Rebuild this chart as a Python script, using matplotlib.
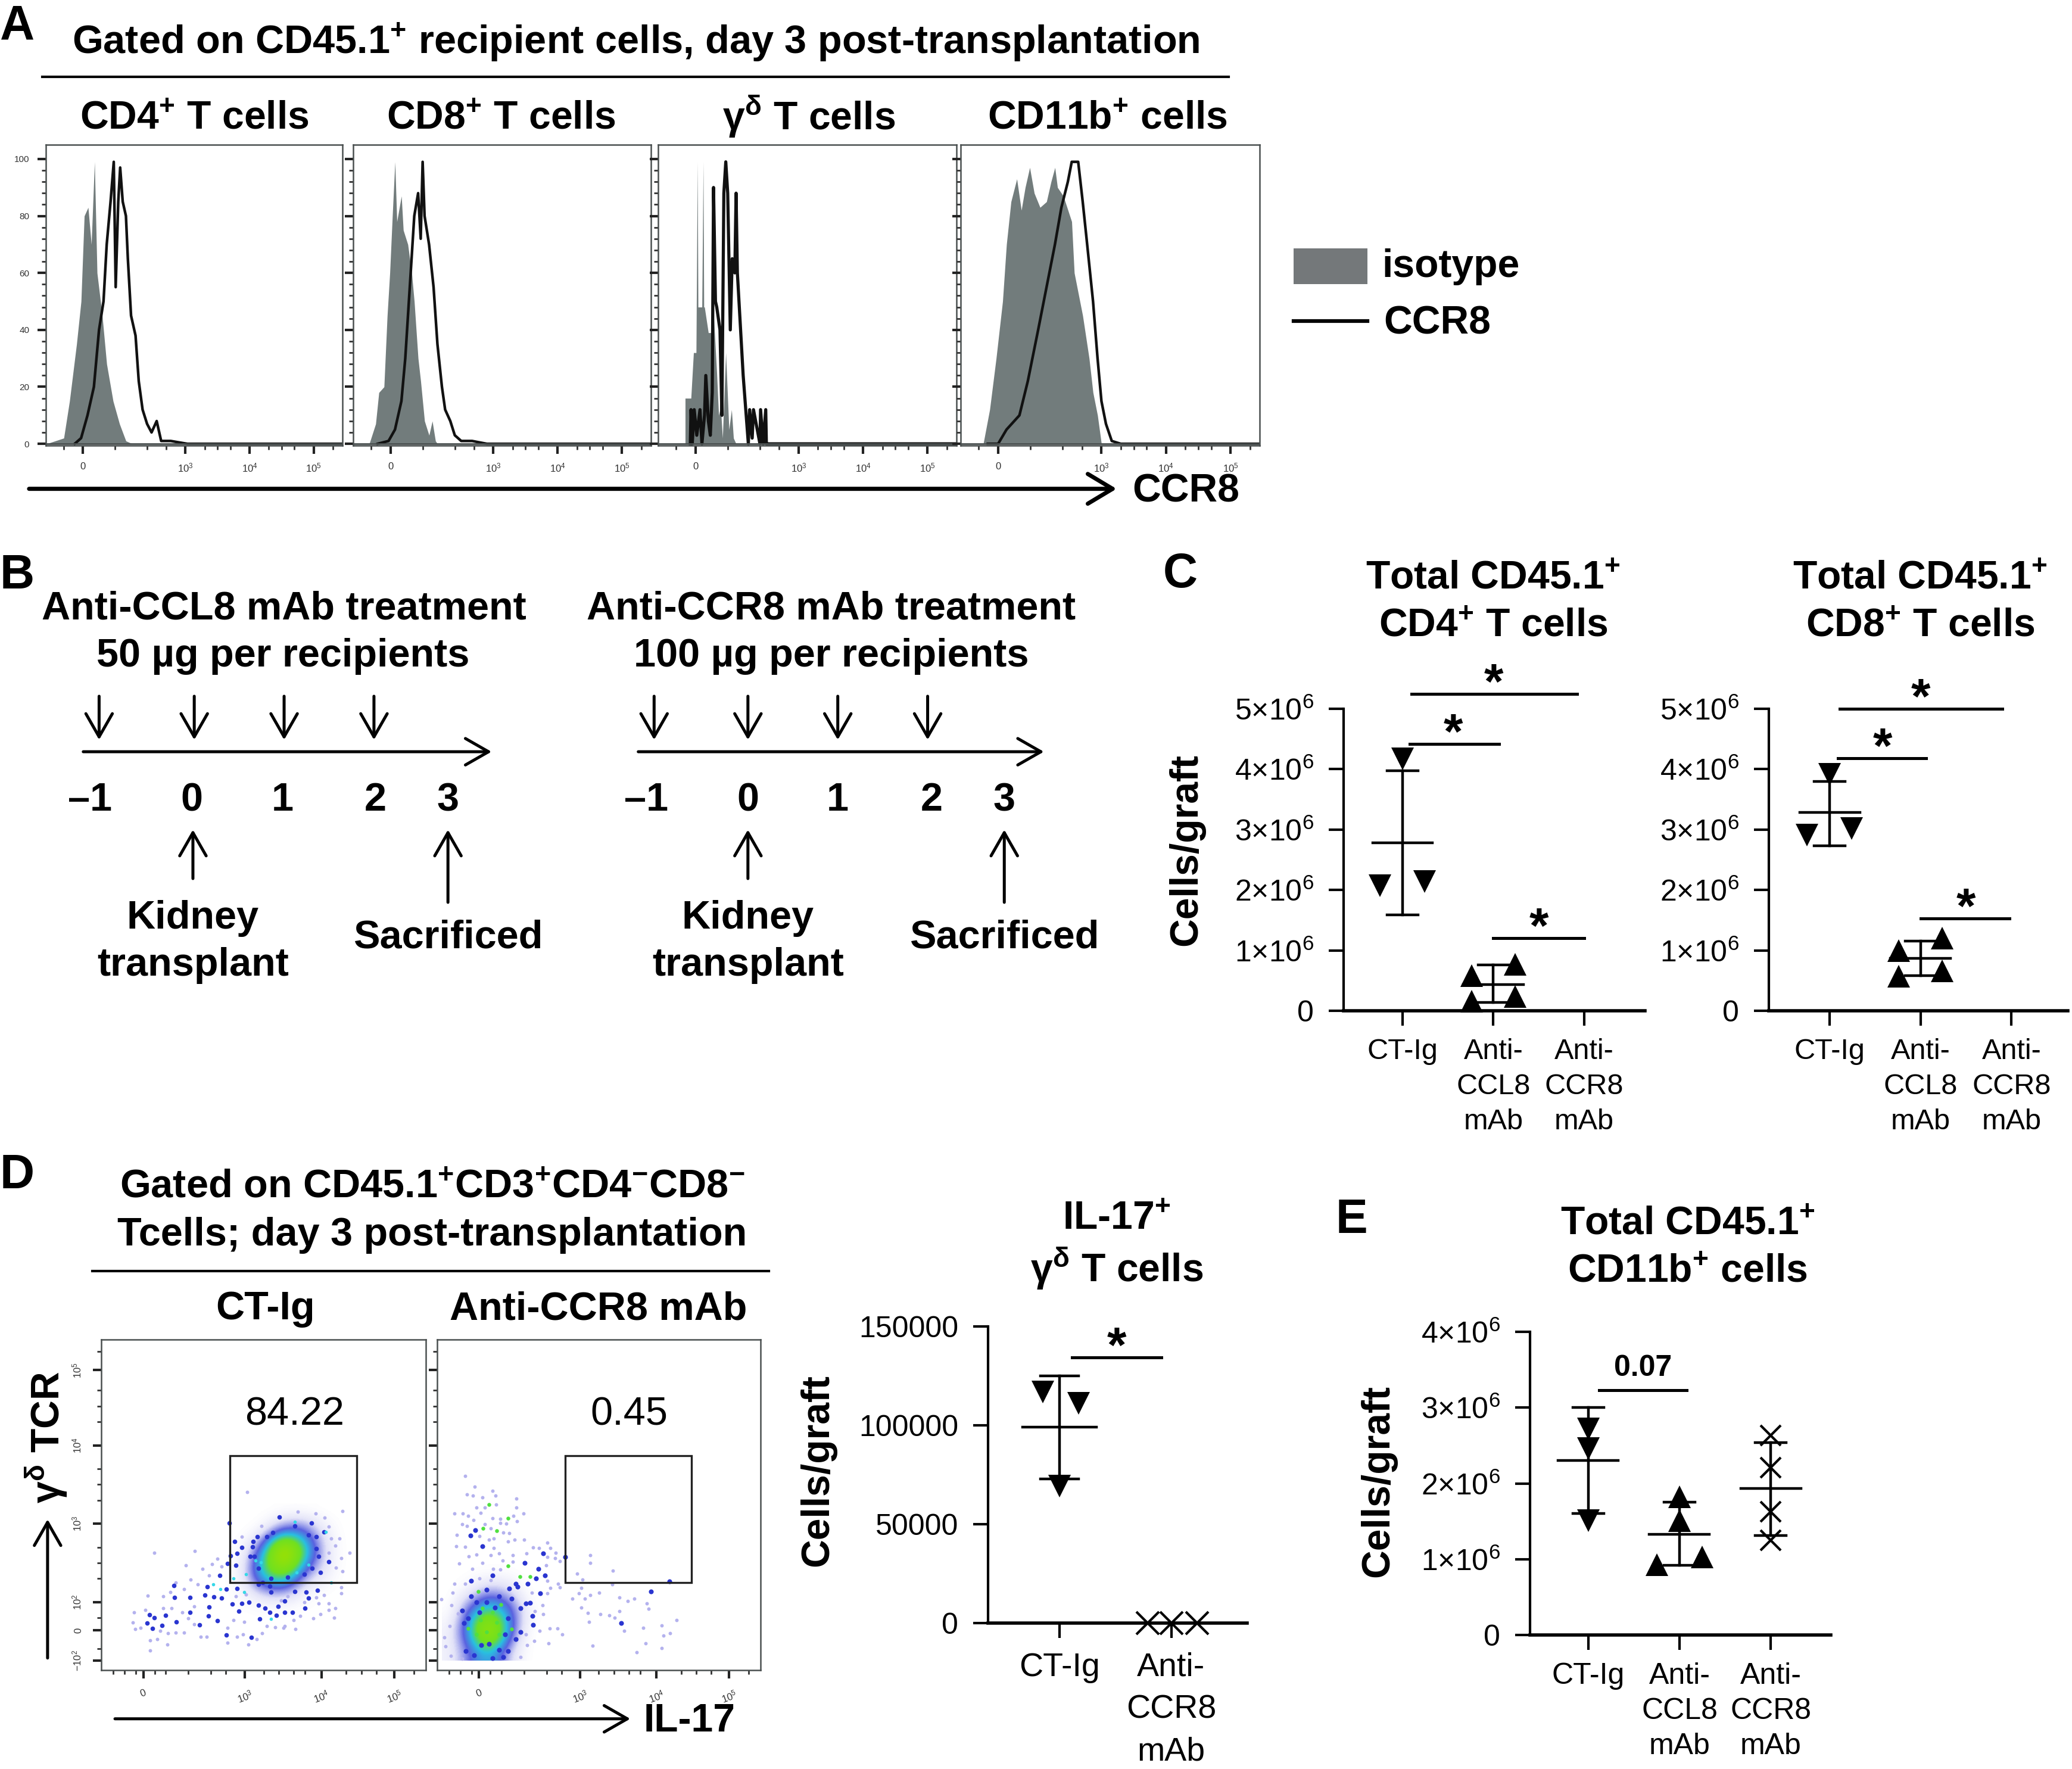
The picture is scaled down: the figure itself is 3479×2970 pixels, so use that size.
import matplotlib
matplotlib.use("Agg")
import matplotlib.pyplot as plt
import numpy as np
from matplotlib.colors import LinearSegmentedColormap
from matplotlib.patches import Rectangle

plt.rcParams['font.family'] = ['Liberation Sans', 'DejaVu Sans']
plt.rcParams['mathtext.fontset'] = 'custom'
plt.rcParams['mathtext.rm'] = 'Liberation Sans'
plt.rcParams['mathtext.bf'] = 'Liberation Sans:bold'
plt.rcParams['mathtext.it'] = 'Liberation Sans:italic'
plt.rcParams['mathtext.default'] = 'regular'

W, H = 3479, 2970

# histograms, panel A (x in decades from zero, y in % of max)
iso_cd4_x = [-0.57, -0.3, -0.21, -0.1, -0.03, 0.02, 0.08, 0.13, 0.18, 0.22, 0.3, 0.37, 0.47, 0.57, 0.67, 0.77]
iso_cd4_y = [0, 2, 15, 35, 50, 80, 83, 70, 99, 60, 45, 28, 15, 7, 1, 0]
ccr8_cd4_x = [-0.13, -0.03, 0.07, 0.17, 0.25, 0.32, 0.37, 0.43, 0.48, 0.51, 0.55, 0.58, 0.62, 0.67, 0.7, 0.75, 0.82,
              0.87, 0.93, 1.0, 1.07, 1.15, 1.22, 1.37, 1.63, 4.03]
ccr8_cd4_y = [0, 2, 10, 20, 40, 50, 70, 85, 99, 55, 85, 97, 85, 80, 65, 45, 38, 22, 12, 7, 4, 8, 1, 1, 0, 0]

iso_cd8_x = [-0.33, -0.23, -0.18, -0.1, -0.05, -0.01, 0.03, 0.07, 0.1, 0.17, 0.2, 0.27, 0.33, 0.37, 0.43, 0.47, 0.53,
             0.6, 0.65, 0.7, 0.73]
iso_cd8_y = [0, 7, 18, 20, 45, 60, 80, 99, 78, 87, 75, 70, 60, 50, 30, 22, 8, 3, 8, 1, 0]
ccr8_cd8_x = [-0.2, -0.03, 0.07, 0.17, 0.23, 0.3, 0.37, 0.43, 0.47, 0.5, 0.53, 0.6, 0.67, 0.73, 0.8, 0.85, 0.93, 1.0,
              1.1, 1.27, 1.5, 4.03]
ccr8_cd8_y = [0, 1, 5, 15, 30, 55, 80, 88, 72, 99, 80, 70, 55, 35, 20, 12, 8, 3, 1, 1, 0, 0]

iso_gd_x = [-0.16, -0.16, -0.07, -0.03, 0.01, 0.03, 0.04, 0.05, 0.1, 0.12, 0.13, 0.14, 0.2, 0.25, 0.27, 0.33, 0.36,
            0.39, 0.42, 0.47, 0.52, 0.56, 0.59, 0.63]
iso_gd_y = [0, 16, 16, 32, 32, 99, 48, 48, 48, 99, 48, 48, 39, 39, 50, 25, 10, 13, 2, 32, 5, 12, 2, 0]
ccr8_gd_x = [-0.08, -0.07, -0.05, -0.02, 0.02, 0.07, 0.1, 0.14, 0.16, 0.2, 0.23, 0.26, 0.28, 0.31, 0.33, 0.38, 0.41,
             0.44, 0.47, 0.5, 0.54, 0.57, 0.61, 0.63, 0.65, 0.7, 0.74, 0.78, 0.82, 0.84, 0.88, 0.9, 1.0, 1.01, 1.05,
             1.09, 1.1, 1.13, 4.03]
ccr8_gd_y = [0, 12, 0, 12, 3, 12, 0, 10, 24, 8, 3, 18, 90, 50, 48, 40, 10, 88, 99, 88, 40, 65, 60, 88, 60, 40, 24, 12,
             0, 12, 2, 12, 0, 12, 0, 12, 0, 0, 0]

iso_cd11_x = [-0.23, -0.13, -0.03, 0.07, 0.13, 0.2, 0.29, 0.36, 0.42, 0.49, 0.56, 0.65, 0.75, 0.82, 0.88, 0.92, 1.01,
              1.14, 1.18, 1.31, 1.41, 1.47, 1.54, 1.6]
iso_cd11_y = [0, 12, 30, 50, 70, 85, 93, 82, 90, 97, 88, 83, 85, 92, 97, 90, 87, 78, 60, 45, 30, 18, 10, 0]
ccr8_cd11_x = [-0.16, 0, 0.13, 0.33, 0.46, 0.62, 0.75, 0.88, 0.98, 1.08, 1.14, 1.24, 1.31, 1.37, 1.47, 1.54, 1.6,
               1.67, 1.76, 1.9, 4.03]
ccr8_cd11_y = [0, 0, 5, 10, 22, 40, 55, 70, 83, 92, 99, 99, 85, 72, 50, 30, 15, 7, 1, 0, 0]

hist_left = [77, 593, 1105, 1613]
hist_right = [575, 1093, 1606, 2115]
hist_ticks = [0, 1.6, 2.6, 3.6]
hist_tick_labels = ["0", "$10^3$", "$10^4$", "$10^5$"]
hist_yticks = [0, 20, 40, 60, 80, 100]

# density of the core of each pseudocolour plot, panel D (decades)
dens_ct_x = [-0.125, 0.125, 0.375, 0.625, 0.875, 1.125, 1.375, 1.625, 1.875, 2.125, 2.375, 2.625]
dens_ct_y = [3.125, 2.875, 2.625, 2.375, 2.125, 1.875]
dens_ct = [
    [0, 0, 0, 0, 0, 0, 0, 0, 0, 0, 0, 0],
    [0, 0, 0, 0, 0, 0, 0, .1, .7, .8, .2, 0],
    [0, 0, 0, 0, 0, 0, .1, 1.1, 4.0, 1.5, .3, 0],
    [0, 0, 0, 0, 0, 0, .2, 1.6, 1.9, .5, .2, 0],
    [0, 0, 0, 0, 0, 0, .1, .3, .3, .1, 0, 0],
    [0, 0, 0, 0, 0, 0, 0, 0, 0, 0, 0, 0],
]
dens_anti_x = [-0.375, -0.125, 0.125, 0.375, 0.625, 0.875]
dens_anti_y = [2.375, 2.125, 1.875, 1.625, 1.375]
dens_anti = [
    [0, 0, 0, 0, 0, 0],
    [0, .1, .4, .3, 0, 0],
    [0, .7, 1.5, .9, .1, 0],
    [.1, 1.0, 3.4, .9, 0, 0],
    [.1, .6, 1.1, .3, 0, 0],
]

ct_light = [(255, 320), (452, 312), (410, 385), (488, 403), (535, 378), (225, 538), (158, 622), (152, 672), (212, 608),
            (163, 706), (190, 700), (237, 762), (270, 755), (318, 782), (237, 813), (322, 725), (360, 722), (400, 723),
            (285, 715), (610, 775), (710, 783), (655, 745), (605, 735), (480, 745), (510, 745), (685, 733), (750, 757),
            (778, 725), (937, 705), (885, 690), (840, 695), (1025, 650), (1060, 630), (1125, 648), (1130, 600),
            (1100, 610), (1100, 575), (1050, 575), (1075, 535), (1160, 525), (1160, 495), (1165, 415), (1135, 397),
            (1160, 347), (1200, 320), (1130, 285), (1165, 110), (1035, 122), (950, 115), (1078, 145), (705, 15),
            (775, 185), (860, 140), (433, 455), (360, 470), (300, 540), (335, 520), (465, 480), (520, 435), (580, 390),
            (560, 350), (400, 505), (390, 620), (450, 590), (340, 600), (300, 600), (420, 650), (450, 680), (610, 700),
            (640, 660), (690, 670), (800, 690), (880, 700), (930, 660), (960, 640), (980, 570), (1040, 545), (900, 540),
            (870, 560), (700, 530), (650, 540), (680, 240), (1100, 190), (1110, 250), (1150, 250), (1100, 320)]
ct_dark = [(232, 632), (255, 648), (222, 675), (293, 688), (248, 703), (310, 635), (355, 545), (352, 485), (430, 545),
           (362, 668), (428, 622), (522, 593), (518, 638), (562, 662), (475, 683), (543, 542), (582, 548), (500, 535),
           (512, 492), (572, 435), (603, 505), (655, 500), (680, 575), (665, 615), (632, 580), (715, 570), (760, 585),
           (790, 600), (820, 520), (815, 490), (760, 480), (855, 590), (845, 635), (765, 655), (815, 620), (885, 565),
           (935, 515), (1045, 510), (990, 520), (1000, 550), (985, 600), (925, 620), (885, 620), (725, 748), (603, 735),
           (645, 265), (680, 295), (655, 325), (625, 335), (650, 385), (735, 265), (720, 340), (1060, 420), (1100, 365),
           (1040, 240), (1015, 170), (1075, 215), (935, 185), (860, 140), (830, 220), (800, 240), (755, 240), (740, 340),
           (760, 400), (1000, 230), (1040, 300), (1050, 340), (1020, 400), (980, 430), (900, 445), (820, 450), (780, 470),
           (730, 290), (618, 170), (610, 375)]
ct_cyan = [(1000, 380), (945, 420), (770, 370), (745, 360), (1085, 215), (935, 165), (575, 505), (540, 480), (690, 520),
           (820, 655), (1110, 470), (640, 450), (700, 430)]

anti_light = [(135, 82), (183, 138), (268, 158), (145, 175), (172, 183), (220, 190), (283, 183), (385, 197), (285, 228),
              (190, 243), (230, 243), (385, 243), (85, 272), (212, 270), (418, 272), (125, 272), (150, 285), (268, 297),
              (305, 300), (370, 283), (388, 310), (305, 320), (335, 322), (175, 305), (232, 327), (120, 327), (145, 335),
              (260, 347), (350, 370), (320, 368), (95, 380), (205, 385), (250, 405), (275, 397), (345, 412), (375, 405),
              (422, 405), (92, 437), (135, 440), (275, 445), (465, 443), (495, 445), (533, 418), (550, 445), (152, 488),
              (190, 478), (260, 483), (300, 472), (368, 482), (432, 472), (535, 490), (575, 470), (572, 497), (595, 512),
              (108, 525), (220, 522), (318, 510), (368, 515), (528, 533), (170, 552), (272, 552), (305, 553), (742, 483),
              (742, 522), (852, 560), (680, 575), (705, 605), (850, 630), (585, 625), (550, 648), (595, 645), (700, 648),
              (535, 610), (535, 675), (460, 670), (85, 625), (135, 625), (205, 600), (260, 607), (20, 703), (75, 672),
              (70, 735), (100, 775), (655, 700), (687, 675), (717, 700), (742, 683), (785, 670), (883, 695), (925, 713),
              (957, 700), (1017, 725), (1025, 752), (700, 747), (730, 772), (790, 778), (835, 785), (860, 798), (883, 765),
              (737, 817), (908, 862), (1000, 848), (1088, 835), (1160, 810), (1128, 875), (1098, 887), (1012, 925),
              (1088, 950), (968, 972), (753, 938), (583, 850), (607, 882), (545, 850), (497, 862), (540, 925), (470, 915),
              (435, 935), (430, 880), (510, 735), (475, 765), (515, 780), (65, 990), (40, 940), (35, 895), (60, 840),
              (120, 1005), (405, 995)]
anti_dark = [(165, 690), (240, 655), (360, 700), (450, 722), (463, 788), (465, 832), (405, 870), (380, 905), (320, 995),
             (345, 965), (405, 750), (270, 1000), (180, 985), (140, 965), (130, 825), (150, 800), (250, 930), (300, 960),
             (215, 935), (330, 880), (345, 800), (280, 745), (190, 720), (240, 720), (300, 690), (120, 760), (205, 770),
             (350, 650), (390, 640), (440, 625), (490, 550), (515, 472), (425, 520), (480, 600), (523, 585), (500, 675),
             (622, 490), (1125, 613), (220, 437), (162, 383), (185, 355), (1037, 665), (893, 825), (380, 625), (270, 585),
             (165, 612), (430, 725)]
anti_green = [(200, 665), (310, 730), (210, 810), (270, 770), (190, 880), (240, 870), (300, 880), (360, 855), (220, 750),
              (150, 850), (290, 820), (250, 228), (345, 297), (222, 348), (288, 358), (400, 590), (450, 590), (345, 537)]

flow_xticks = [0, 1.35, 2.37, 3.34]
flow_yticks = [1.25, 1.64, 2, 3, 4, 4.96]
flow_ylabels = ["$-10^2$", "0", "$10^2$", "$10^3$", "$10^4$", "$10^5$"]

# dot plots
cats_3 = ["CT-Ig", "Anti-\nCCL8\nmAb", "Anti-\nCCR8\nmAb"]
cats_2 = ["CT-Ig", "Anti-\nCCR8\nmAb"]
ticks_5e6 = [0, 1e6, 2e6, 3e6, 4e6, 5e6]
labels_5e6 = ["0", "1×10$^6$", "2×10$^6$", "3×10$^6$", "4×10$^6$", "5×10$^6$"]

cd4_ct_off = [0, -0.25, 0.24]
cd4_ct = [4.17e6, 2.07e6, 2.14e6]
cd4_ct_stats = [2.78e6, 1.59e6, 3.97e6]
cd4_ccl8_off = [-0.24, 0.24, -0.24, 0.24]
cd4_ccl8 = [0.58e6, 0.77e6, 0.16e6, 0.24e6]
cd4_ccl8_stats = [0.43e6, 0.14e6, 0.76e6]

cd8_ct_off = [0, -0.25, 0.24]
cd8_ct = [3.92e6, 2.91e6, 3.02e6]
cd8_ct_stats = [3.28e6, 2.73e6, 3.8e6]
cd8_ccl8_off = [-0.24, 0.24, -0.24, 0.24]
cd8_ccl8 = [1.0e6, 1.2e6, 0.57e6, 0.66e6]
cd8_ccl8_stats = [0.87e6, 0.58e6, 1.15e6]

il17_ct_off = [-0.15, 0.17, 0]
il17_ct = [117000, 111000, 69400]
il17_ct_stats = [99000, 73000, 125000]
il17_anti_off = [-0.21, 0, 0.23]
il17_anti = [0, 0, 0]

cd11_ct_off = [0, 0, 0]
cd11_ct = [2.72e6, 2.46e6, 1.51e6]
cd11_ct_stats = [2.3e6, 1.6e6, 3.0e6]
cd11_ccl8_off = [-0.25, 0.25, 0, 0]
cd11_ccl8 = [0.93e6, 1.03e6, 1.82e6, 1.51e6]
cd11_ccl8_stats = [1.33e6, 0.92e6, 1.75e6]
cd11_ccr8_off = [0, 0, 0, 0]
cd11_ccr8 = [2.63e6, 2.21e6, 1.63e6, 1.25e6]
cd11_ccr8_stats = [1.93e6, 1.31e6, 2.54e6]

fig = plt.figure(figsize=(W / 100, H / 100), dpi=100)
FLOW = '#4a5050'
ISO = '#727c7c'


def add_axes_px(left, top, right, bottom):
    return fig.add_axes([left / W, 1 - bottom / H, (right - left) / W, (bottom - top) / H])


# --- panel A histograms
iso_all = [(iso_cd4_x, iso_cd4_y), (iso_cd8_x, iso_cd8_y), (iso_gd_x, iso_gd_y), (iso_cd11_x, iso_cd11_y)]
line_all = [(ccr8_cd4_x, ccr8_cd4_y), (ccr8_cd8_x, ccr8_cd8_y), (ccr8_gd_x, ccr8_gd_y), (ccr8_cd11_x, ccr8_cd11_y)]
for i in range(4):
    ax = add_axes_px(hist_left[i], 243, hist_right[i], 748)
    ax.fill_between(iso_all[i][0], 0, iso_all[i][1], color=ISO, lw=0)
    ax.plot(line_all[i][0], line_all[i][1], color='#111111', lw=3.2 if i != 2 else 3.8)
    ax.axhline(0, color=FLOW, lw=2)
    ax.set_xlim(-0.58, 4.05)
    ax.set_ylim(-0.6, 105)
    ax.set_xticks(hist_ticks)
    ax.set_xticklabels(hist_tick_labels, fontsize=12, color='#333333')
    ax.set_yticks(hist_yticks)
    if i == 0:
        ax.set_yticklabels([str(t) for t in hist_yticks], fontsize=11, color='#333333')
    else:
        ax.set_yticklabels([])
    ax.tick_params(axis='both', length=10, width=3, pad=10, color='#222222')
    ax.set_yticks([t + 4 * k for t in hist_yticks[:-1] for k in range(1, 5)], minor=True)
    ax.set_xticks([-0.3, 0.5, 1.0, 1.3, 1.9, 2.1, 2.3, 2.9, 3.1, 3.3, 3.9], minor=True)
    ax.tick_params(axis='both', which='minor', length=5, width=2, color='#333333')
    for sp in ax.spines.values():
        sp.set_color(FLOW)
        sp.set_linewidth(1.8)

# --- panel D pseudocolour plots
cmap = LinearSegmentedColormap.from_list(
    'flow', [(0, '#ffffff'), (0.06, '#e2e2f8'), (0.16, '#5a62e0'), (0.27, '#28c0e0'), (0.4, '#70e020'),
             (0.7, '#a0e000'), (0.85, '#f08010'), (1, '#f02010')])


def to_decades(points, y0):
    # scan column/row to decades on the plot axes
    pts = np.array(points, dtype=float)
    return pts[:, 0] / 363 - 0.56, y0 - pts[:, 1] / 394.5


flow_sets = [
    (170, 715, dens_ct_x, dens_ct_y, dens_ct, 3.441,
     [(ct_light, '#b4b2ee', 18), (ct_dark, '#2a35d0', 30), (ct_cyan, '#35d8e8', 16)]),
    (734, 1277, dens_anti_x, dens_anti_y, dens_anti, 3.82,
     [(anti_light, '#b4b2ee', 18), (anti_dark, '#2a35d0', 34), (anti_green, '#50e040', 22)]),
]
for i, (l, r, dx, dy, dens, y0, dots) in enumerate(flow_sets):
    ax = add_axes_px(l, 2249, r, 2804)
    ax.imshow(dens, extent=[dx[0] - 0.125, dx[-1] + 0.125, dy[-1] - 0.125, dy[0] + 0.125], aspect='auto',
              cmap=cmap, vmin=0, vmax=4, interpolation='bicubic', zorder=1)
    for pts, col, size in dots:
        sx, sy = to_decades(pts, y0)
        ax.scatter(sx, sy, s=size, color=col, lw=0, zorder=2)
    ax.add_patch(Rectangle((1.15, 2.25), 1.69, 1.62, fill=False, ec='#222222', lw=2.4, zorder=3))
    ax.set_xlim(-0.56, 3.76)
    ax.set_ylim(1.13, 5.35)
    ax.set_xticks(flow_xticks)
    ax.set_xticklabels(["0", "$10^3$", "$10^4$", "$10^5$"], fontsize=12, color='#333333', rotation=20)
    ax.set_yticks(flow_yticks)
    if i == 0:
        ax.set_yticklabels(flow_ylabels, fontsize=12, color='#333333', rotation=90, va='center')
    else:
        ax.set_yticklabels([])
    ax.tick_params(axis='both', length=10, width=3, pad=12, color='#222222')
    ax.set_xticks([-0.4, -0.25, -0.1, 0.15, 0.3, 0.6, 0.9, 1.1, 1.6, 1.8, 2.0, 2.15, 2.7, 2.9, 3.1, 3.6], minor=True)
    ax.set_yticks([1.4, 1.8, 2.3, 2.5, 2.7, 3.3, 3.5, 3.7, 4.3, 4.5, 4.7, 5.2], minor=True)
    ax.tick_params(axis='both', which='minor', length=5, width=2, color='#333333')
    for sp in ax.spines.values():
        sp.set_color(FLOW)
        sp.set_linewidth(1.8)


# --- dot plots
def dot_axes(left, right, top, bottom, xlim, ymax, yticks, ylabels, cats, xsize=36, linespacing=1.36, xpad=15):
    ax = add_axes_px(left, top, right, bottom)
    ax.set_xlim(*xlim)
    ax.set_ylim(0, ymax)
    ax.spines['top'].set_visible(False)
    ax.spines['right'].set_visible(False)
    ax.spines['left'].set_linewidth(3)
    ax.spines['bottom'].set_linewidth(4)
    ax.set_yticks(yticks)
    ax.set_yticklabels(ylabels, fontsize=36)
    ax.set_xticks(range(len(cats)))
    ax.set_xticklabels(cats, fontsize=xsize, linespacing=linespacing)
    ax.tick_params(axis='x', length=18, width=3, pad=xpad)
    ax.tick_params(axis='y', length=18, width=3, pad=18)
    ax.patch.set_alpha(0)
    return ax


def group(ax, x0, offs, vals, marker, stats=None, ms=28):
    xs = [x0 + o for o in offs]
    if marker == 'x':
        ax.plot(xs, vals, ls='', marker='x', ms=ms, mew=3, color='k', clip_on=False, zorder=4)
    else:
        ax.plot(xs, vals, ls='', marker=marker, ms=ms, mew=0, color='k', clip_on=False, zorder=4)
    if stats is not None:
        mean, lo, hi = stats
        ax.plot([x0, x0], [lo, hi], color='k', lw=3.2, clip_on=False, zorder=5)
        ax.plot([x0 - 0.33, x0 + 0.33], [mean, mean], color='k', lw=3.2, clip_on=False, zorder=5)
        for v in (lo, hi):
            ax.plot([x0 - 0.17, x0 + 0.17], [v, v], color='k', lw=3.2, clip_on=False, zorder=5)


def sig(ax, x0, x1, y, xt, label='*', dy=-18, size=60):
    ax.plot([x0, x1], [y, y], color='k', lw=3.6, clip_on=False)
    ax.annotate(label, (xt, y), xytext=(0, dy), textcoords='offset points', ha='center', va='bottom',
                fontsize=size, fontweight='bold', annotation_clip=False)


ax = dot_axes(2256, 2762, 1190, 1697, (-0.65, 2.67), 5e6, ticks_5e6, labels_5e6, cats_3, xsize=35, linespacing=1.4)
group(ax, 0, cd4_ct_off, cd4_ct, 'v', cd4_ct_stats)
group(ax, 1, cd4_ccl8_off, cd4_ccl8, '^', cd4_ccl8_stats)
sig(ax, 0.1, 1.92, 5.25e6, 1.0)
sig(ax, 0.08, 1.06, 4.42e6, 0.56)
sig(ax, 1.0, 2.0, 1.2e6, 1.5)

ax = dot_axes(2970, 3472, 1190, 1697, (-0.67, 2.62), 5e6, ticks_5e6, labels_5e6, cats_3, xsize=35, linespacing=1.4)
group(ax, 0, cd8_ct_off, cd8_ct, 'v', cd8_ct_stats)
group(ax, 1, cd8_ccl8_off, cd8_ccl8, '^', cd8_ccl8_stats)
sig(ax, 0.11, 1.9, 5.0e6, 1.0)
sig(ax, 0.09, 1.06, 4.18e6, 0.58)
sig(ax, 1.0, 1.98, 1.53e6, 1.5)

ax = dot_axes(1659, 2094, 2227, 2725, (-0.64, 1.68), 150000, [0, 50000, 100000, 150000],
              ["0", "50000", "100000", "150000"], cats_2, xsize=40, linespacing=1.47, xpad=17)
group(ax, 0, il17_ct_off, il17_ct, 'v', il17_ct_stats)
group(ax, 1, il17_anti_off, il17_anti, 'x', ms=28)
sig(ax, 0.11, 0.91, 134400, 0.51)

ax = dot_axes(2569, 3074, 2236, 2745, (-0.64, 2.66), 4e6, [0, 1e6, 2e6, 3e6, 4e6], labels_5e6[:5], cats_3)
group(ax, 0, cd11_ct_off, cd11_ct, 'v', cd11_ct_stats)
group(ax, 1, cd11_ccl8_off, cd11_ccl8, '^', cd11_ccl8_stats)
group(ax, 2, cd11_ccr8_off, cd11_ccr8, 'x', cd11_ccr8_stats, ms=25)
sig(ax, 0.12, 1.08, 3.23e6, 0.6, label='0.07', dy=10, size=36)

# --- text and arrows on a full-figure overlay, in the shrunk picture's coordinates
ann = fig.add_axes([0, 0, 1, 1], zorder=10)
ann.set_xlim(0, 1568)
ann.set_ylim(1339, 0)
ann.axis('off')
BIG = 47.5
MID = 48


def txt(x, y, s, size=BIG, bold=True, ha='center', rot=0):
    ann.text(x, y + (0 if rot else 2), s, fontsize=size, fontweight='bold' if bold else 'normal', ha=ha, va='center',
             rotation=rot, rotation_mode='anchor' if rot else 'default')


def arrow(x0, y0, x1, y1, lw=3.6, head=(28, 16)):
    ann.annotate('', xy=(x1, y1), xytext=(x0, y0),
                 arrowprops=dict(arrowstyle=f'->,head_length={head[0]},head_width={head[1]}', lw=lw, color='k',
                                 shrinkA=0, shrinkB=0, mutation_scale=1))


for x, y, s in [(13, 18, 'A'), (13, 434, 'B'), (893, 433, 'C'), (13, 888, 'D'), (1023, 922, 'E')]:
    txt(x, y, s, size=58)

# panel A
txt(481, 30, r"Gated on CD45.1$^{\mathbf{+}}$ recipient cells, day 3 post-transplantation", size=48)
ann.plot([32, 930], [58, 58], color='k', lw=3)
txt(147, 88, r"CD4$^{\mathbf{+}}$ T cells")
txt(379, 88, r"CD8$^{\mathbf{+}}$ T cells")
txt(612, 86, r"γ$^{\mathbf{δ}}$ T cells")
txt(838, 88, r"CD11b$^{\mathbf{+}}$ cells")
arrow(22, 370, 845, 370, lw=5, head=(30, 18))
txt(857, 370, "CCR8", ha='left')
ann.add_patch(Rectangle((979, 188), 56, 27, color='#74787a', lw=0))
txt(1046, 200, "isotype", ha='left')
ann.plot([979, 1035], [243, 243], color='k', lw=4.5)
txt(1047, 243, "CCR8", ha='left')

# panel B
timelines = [(63, 372, [75, 147, 215, 283], [68, 145, 214, 284, 339], 146, 339, 215, 214,
              "Anti-CCL8 mAb treatment", "50 µg per recipients"),
             (483, 790, [495, 566, 634, 702], [489, 566, 634, 705, 760], 566, 760, 629, 629,
              "Anti-CCR8 mAb treatment", "100 µg per recipients")]
day_labels = ["–1", "0", "1", "2", "3"]
for x0, x1, downs, days, kid, sac, h1, h2, t1, t2 in timelines:
    txt(h1, 459, t1, size=MID)
    txt(h2, 495, t2, size=MID)
    arrow(x0, 569, x1, 569)
    for d in downs:
        arrow(d, 527, d, 560)
    for d, lab in zip(days, day_labels):
        txt(d, 604, lab, size=MID)
    arrow(kid, 665, kid, 628)
    arrow(sac, 683, sac, 628)
    txt(kid, 693, "Kidney", size=MID)
    txt(kid, 729, "transplant", size=MID)
    txt(sac, 708, "Sacrificed", size=MID)

# panel C
txt(1130, 436, r"Total CD45.1$^{\mathbf{+}}$")
txt(1130, 472, r"CD4$^{\mathbf{+}}$ T cells")
txt(1453, 436, r"Total CD45.1$^{\mathbf{+}}$")
txt(1453, 472, r"CD8$^{\mathbf{+}}$ T cells")
txt(898, 643, "Cells/graft", rot=90)

# panel D
txt(327, 897, r"Gated on CD45.1$^{\mathbf{+}}$CD3$^{\mathbf{+}}$CD4$^{\mathbf{-}}$CD8$^{\mathbf{-}}$", size=MID)
txt(327, 933, "Tcells; day 3 post-transplantation", size=MID)
ann.plot([70, 582], [962, 962], color='k', lw=3)
txt(201, 989, "CT-Ig", size=MID)
txt(453, 989, "Anti-CCR8 mAb", size=MID)
txt(223, 1069, "84.22", size=48, bold=False)
txt(476, 1069, "0.45", size=48, bold=False)
txt(35, 1088, r"γ$^{\mathbf{δ}}$ TCR", rot=90)
arrow(36, 1255, 36, 1150)
arrow(87, 1301, 477, 1301)
txt(487, 1301, "IL-17", ha='left')
txt(845, 921, r"IL-17$^{\mathbf{+}}$")
txt(845, 958, r"γ$^{\mathbf{δ}}$ T cells")
txt(619, 1113, "Cells/graft", rot=90)

# panel E
txt(1277, 925, r"Total CD45.1$^{\mathbf{+}}$")
txt(1277, 961, r"CD11b$^{\mathbf{+}}$ cells")
txt(1043, 1121, "Cells/graft", rot=90)

fig.savefig("out.png", dpi=100)
